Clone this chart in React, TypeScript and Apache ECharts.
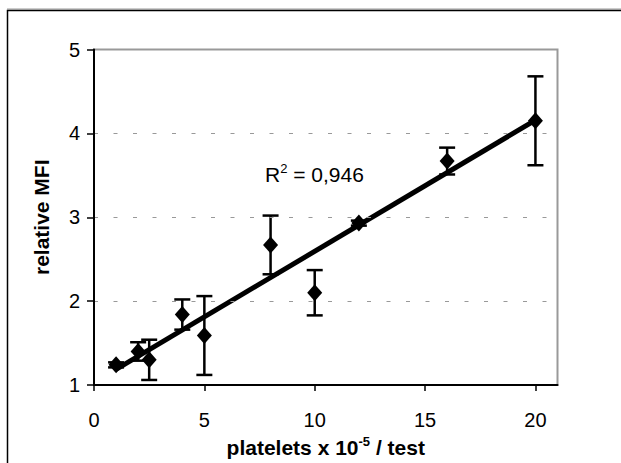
import React, { useEffect, useRef } from "react";
import * as echarts from "echarts";

const xValues = [1, 2, 2.5, 4, 5, 8, 10, 12, 16, 20];
const yValues = [1.24, 1.4, 1.3, 1.84, 1.59, 2.67, 2.1, 2.93, 3.67, 4.15];
const errValues = [0.03, 0.11, 0.24, 0.18, 0.47, 0.35, 0.27, 0.03, 0.16, 0.53];
const xTicks = [0, 5, 10, 15, 20];
const yTicks = [1, 2, 3, 4, 5];
const r2Label = "0,946";

function regression(xs: number[], ys: number[]) {
  const n = xs.length;
  const mx = xs.reduce((a, b) => a + b, 0) / n;
  const my = ys.reduce((a, b) => a + b, 0) / n;
  let sxy = 0;
  let sxx = 0;
  for (let i = 0; i < n; i++) {
    sxy += (xs[i] - mx) * (ys[i] - my);
    sxx += (xs[i] - mx) * (xs[i] - mx);
  }
  const slope = sxy / sxx;
  return { slope, intercept: my - slope * mx };
}

export default function App() {
  const ref = useRef<HTMLDivElement>(null);
  useEffect(() => {
    if (!ref.current) return;
    const chart = echarts.init(ref.current, null, { renderer: "svg" });
    const { slope, intercept } = regression(xValues, yValues);
    const x0 = Math.min(...xValues);
    const x1 = Math.max(...xValues);
    const trend = [
      [x0, intercept + slope * x0],
      [x1, intercept + slope * x1],
    ];
    const points = xValues.map((x, i) => [x, yValues[i]]);
    const errData = xValues.map((x, i) => [x, yValues[i], errValues[i]]);
    const font = "Liberation Sans";

    chart.setOption({
      animation: false,
      backgroundColor: "#ffffff",
      grid: {
        left: 94,
        top: 49.5,
        right: 63.5,
        bottom: 76,
        show: true,
        borderColor: "#999999",
        borderWidth: 2,
        backgroundColor: "transparent",
      },
      graphic: [
        {
          type: "line",
          shape: { x1: 7, y1: 9, x2: 621, y2: 9 },
          style: { stroke: "#999999", lineWidth: 1 },
          silent: true,
        },
        {
          type: "polyline",
          shape: { points: [[7.5, 463], [7.5, 10.5], [621, 10.5]] },
          style: { stroke: "#000000", lineWidth: 1.5, fill: "none" },
          silent: true,
        },
        {
          type: "text",
          left: 265,
          top: 162,
          style: {
            text: "R{sup|2} = " + r2Label,
            fontFamily: font,
            fontSize: 21,
            fill: "#000",
            rich: {
              sup: { fontSize: 13, verticalAlign: "top", padding: [0, 0, 12, 0], fontFamily: font },
            },
          },
          silent: true,
        },
      ],
      xAxis: {
        type: "value",
        min: 0,
        max: 21,
        interval: 5,
        z: 5,
        name: "platelets x 10{sup|-5} / test",
        nameLocation: "middle",
        nameGap: 50,
        nameTextStyle: {
          fontFamily: font,
          fontSize: 21,
          fontWeight: "bold",
          color: "#000",
          rich: {
            sup: { fontFamily: font, fontSize: 13, fontWeight: "bold", verticalAlign: "top", padding: [0, 0, 12, 0], color: "#000" },
          },
        },
        axisLine: { show: true, lineStyle: { color: "#000", width: 2 } },
        axisTick: { show: true, length: 6, customValues: xTicks, lineStyle: { color: "#000", width: 1.5 } },
        axisLabel: {
          customValues: xTicks,
          margin: 25,
          fontFamily: font,
          fontSize: 20,
          color: "#000",
        },
        splitLine: { show: false },
      },
      yAxis: {
        type: "value",
        min: 1,
        max: 5,
        interval: 1,
        z: 5,
        name: "relative MFI",
        nameLocation: "middle",
        nameGap: 42,
        nameRotate: 90,
        nameTextStyle: {
          fontFamily: font,
          fontSize: 21,
          fontWeight: "bold",
          color: "#000",
        },
        axisLine: { show: true, lineStyle: { color: "#000", width: 2 } },
        axisTick: { show: true, length: 7, customValues: yTicks, lineStyle: { color: "#000", width: 1.5 } },
        axisLabel: {
          customValues: yTicks,
          margin: 14,
          fontFamily: font,
          fontSize: 20,
          color: "#000",
        },
        splitLine: {
          show: true,
          lineStyle: { color: "#999999", type: [4, 15.5], width: 1.2 },
        },
      },
      series: [
        {
          type: "custom",
          z: 2,
          data: errData,
          renderItem: (params: any, api: any) => {
            const x = api.value(0);
            const y = api.value(1);
            const e = api.value(2);
            const top = api.coord([x, y + e]);
            const bot = api.coord([x, y - e]);
            const hw = 8;
            const style = { stroke: "#000", lineWidth: 2.5 };
            return {
              type: "group",
              children: [
                { type: "line", shape: { x1: top[0], y1: top[1], x2: bot[0], y2: bot[1] }, style },
                { type: "line", shape: { x1: top[0] - hw, y1: top[1], x2: top[0] + hw, y2: top[1] }, style },
                { type: "line", shape: { x1: bot[0] - hw, y1: bot[1], x2: bot[0] + hw, y2: bot[1] }, style },
              ],
            };
          },
        },
        {
          type: "line",
          z: 3,
          data: trend,
          symbol: "none",
          lineStyle: { color: "#000", width: 5 },
        },
        {
          type: "scatter",
          z: 4,
          data: points,
          symbol: "diamond",
          symbolSize: [15, 17],
          itemStyle: { color: "#000", opacity: 1 },
        },
      ],
    });
    return () => chart.dispose();
  }, []);
  return (
    <div
      ref={ref}
      style={{ position: "fixed", left: 0, top: 0, width: 621, height: 463 }}
    />
  );
}
